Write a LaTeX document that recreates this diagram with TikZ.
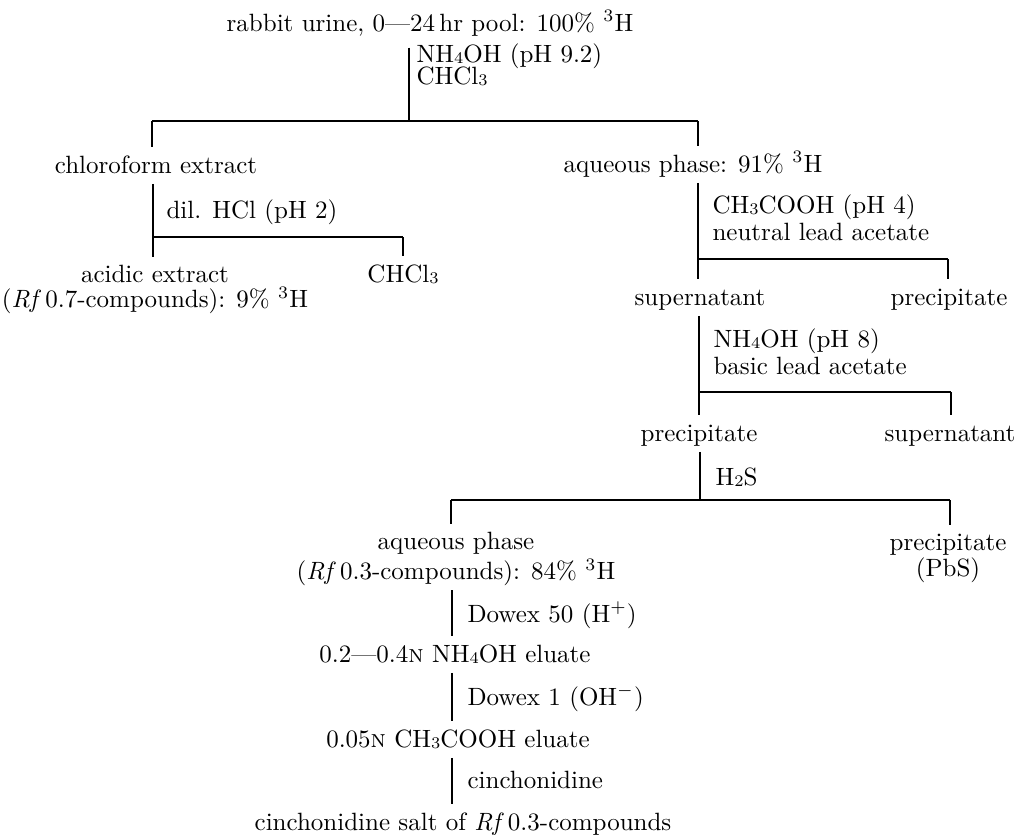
\documentclass[tikz,border=0pt]{standalone}
\newcommand\chemsub[1]{\raisebox{-0.5pt}{\fontsize{6.5}{6.5}\selectfont #1}}
\tikzset{every picture/.style={line width=0.45pt}}
\tikzset{
  every node/.style={inner sep=0pt, font=\fontsize{10}{9.4}\selectfont},
  item/.style={text height=7pt, text depth=2.5pt},
  stem/.style={shorten <=1.6pt},
  leg/.style={shorten >=3.2pt},
  heavy/.style={line width=0.9pt}
}
\begin{document}
\begin{tikzpicture}[x=0.4pt,y=0.4pt,yscale=-1,xscale=1]
\useasboundingbox (0,0) rectangle (1017,834);

% Text Node
\node[item, anchor=base] (urine) at (430,31) {rabbit urine, 0---24\,hr pool: 100\%\ \textsuperscript{3}H};
% Text Node
\node[anchor=north west, align=left] (ammonia) at (416,43) {NH\chemsub{4}OH (pH 9.2)\\[-1.8pt]CHCl\chemsub{3}};
% Text Node
\node[item, anchor=base] (chloro) at (156,173) {chloroform extract};
% Text Node
\node[item, anchor=base west] (hcl) at (166,218) {dil. HCl (pH 2)};
% Text Node
\node[anchor=north, align=center] (acidic) at (155,265) {acidic extract\\[0.5pt](\textit{Rf}\,0.7-compounds): 9\%\ \textsuperscript{3}H};
% Text Node
\node[item, anchor=base] (chcl) at (403,282) {CHCl\chemsub{3}};
% Text Node
\node[item, anchor=base] (aqueous) at (693,172) {aqueous phase: 91\%\ \textsuperscript{3}H};
% Text Node
\node[anchor=north west, align=left] (acetic) at (712,194) {CH\chemsub{3}COOH (pH 4)\\[0.6pt]neutral lead acetate};
% Text Node
\node[item, anchor=base] (super1) at (700,305) {supernatant};
% Text Node
\node[item, anchor=base] (precip1) at (949,305) {precipitate};
% Text Node
\node[anchor=north west, align=left] (basic) at (713,328) {NH\chemsub{4}OH (pH 8)\\[0.6pt]basic lead acetate};
% Text Node
\node[item, anchor=base] (precip2) at (699,441) {precipitate};
% Text Node
\node[item, anchor=base] (super2) at (950,441) {supernatant};
% Text Node
\node[item, anchor=base west] (hsulf) at (715,485) {H\chemsub{2}S};
% Text Node
\node[anchor=north, align=center] (aqueous2) at (456,532) {aqueous phase\\[0.6pt](\textit{Rf}\,0.3-compounds): 84\%\ \textsuperscript{3}H};
% Text Node
\node[anchor=north, align=center] (pbs) at (948,533) {precipitate\\(PbS)};
% Text Node
\node[item, anchor=base west] (dowexa) at (467,622) {Dowex 50 (H\textsuperscript{+})};
% Text Node
\node[item, anchor=base] (eluatea) at (455,662) {0.2---0.4\textsc{n} NH\chemsub{4}OH eluate};
% Text Node
\node[item, anchor=base west] (dowexb) at (467,705) {Dowex 1 (OH\textsuperscript{$-$})};
% Text Node
\node[item, anchor=base] (eluateb) at (458,747) {0.05\textsc{n} CH\chemsub{3}COOH eluate};
% Text Node
\node[item, anchor=base west] (cinch) at (467,788) {cinchonidine};
% Text Node
\node[item, anchor=base] (salt) at (463,830) {cinchonidine salt of \textit{Rf}\,0.3-compounds};

% Forks
\coordinate (fork0) at (409,121);
\coordinate (fork0l) at (152,121);
\coordinate (fork0r) at (698,121);
\coordinate (fork1) at (153,237);
\coordinate (fork1r) at (403,237);
\coordinate (fork2) at (698,259);
\coordinate (fork2r) at (948,259);
\coordinate (fork3) at (699,392);
\coordinate (fork3r) at (951,392);
\coordinate (fork4) at (700,500);
\coordinate (fork4l) at (451,500);
\coordinate (fork4r) at (950,500);
\coordinate (column) at (452,0);

% NH4OH, CHCl3
\draw[shorten <=3.9pt] (urine.south -| fork0) -- (fork0);
\draw (fork0l) -- (fork0r);
\draw[leg] (fork0l) -- (fork0l |- chloro.north);
\draw[leg] (fork0r) -- (fork0r |- aqueous.north);
% dil. HCl
\draw[stem,leg] (chloro.south -| fork1) -- (acidic.north -| fork1);
\draw (fork1) -- (fork1r);
\draw[leg] (fork1r) -- (fork1r |- chcl.north);
% neutral lead acetate
\draw[stem,leg] (aqueous.south -| fork2) -- (super1.north -| fork2);
\draw (fork2) -- (fork2r);
\draw[leg] (fork2r) -- (fork2r |- precip1.north);
% basic lead acetate
\draw[stem,leg] (super1.south -| fork3) -- (precip2.north -| fork3);
\draw (fork3) -- (fork3r);
\draw[leg] (fork3r) -- (fork3r |- super2.north);
% H2S
\draw[stem,heavy] (precip2.south -| fork4) -- (fork4);
\draw (fork4l) -- (fork4r);
\draw[leg] (fork4l) -- (fork4l |- aqueous2.north);
\draw[leg] (fork4r) -- (fork4r |- pbs.north);
% ion exchange
\draw[stem,leg,heavy] (aqueous2.south -| column) -- (eluatea.north -| column);
\draw[stem,leg,heavy] (eluatea.south -| column) -- (eluateb.north -| column);
\draw[stem,leg,heavy] (eluateb.south -| column) -- (salt.north -| column);

\end{tikzpicture}
\end{document}
